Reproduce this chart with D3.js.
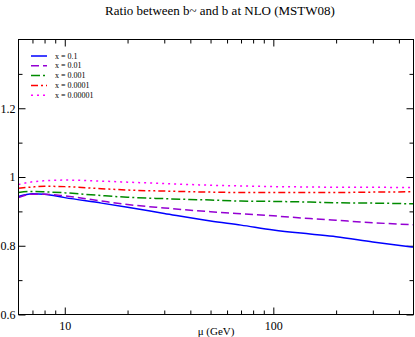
<!DOCTYPE html>
<html>
<head>
<meta charset="utf-8">
<script src="https://cdn.jsdelivr.net/npm/d3@7"></script>
<style>
  body { margin: 0; background: #fff; }
  svg { display: block; }
  text { font-family: "Liberation Serif", "DejaVu Serif", serif; }
</style>
</head>
<body>
<svg class="chart"></svg>
<script>
// scale mu (GeV) and the b~/b ratio for each x
var mu = [6, 7, 8, 10, 15, 20, 30, 50, 70, 100, 150, 200, 300, 470];
var r_x1 = [0.943, 0.951, 0.950, 0.940, 0.924, 0.912, 0.894, 0.872, 0.860, 0.846, 0.834, 0.826, 0.811, 0.796];
var r_x2 = [0.940, 0.950, 0.950, 0.945, 0.930, 0.920, 0.910, 0.899, 0.893, 0.887, 0.879, 0.874, 0.867, 0.861];
var r_x3 = [0.955, 0.958, 0.957, 0.954, 0.946, 0.941, 0.937, 0.933, 0.930, 0.929, 0.927, 0.925, 0.924, 0.922];
var r_x4 = [0.967, 0.971, 0.973, 0.972, 0.966, 0.962, 0.959, 0.956, 0.955, 0.955, 0.955, 0.955, 0.956, 0.957];
var r_x5 = [0.978, 0.986, 0.989, 0.991, 0.988, 0.985, 0.981, 0.976, 0.974, 0.972, 0.971, 0.970, 0.970, 0.969];
var labels = ["x = 0.1", "x = 0.01", "x = 0.001", "x = 0.0001", "x = 0.00001"];

var xMajor = [10, 100];
var xMinor = [7, 8, 9, 20, 30, 40, 50, 60, 70, 80, 90, 200, 300, 400];
var yMajor = [0.6, 0.8, 1, 1.2];
var yMinor = [0.7, 0.9, 1.1, 1.3];

let W = 415, H = 337;
let pL = 18.5, pT = 39.5, pR = 413.5, pB = 314.5;

var series = [
  {vals: r_x1, color: "#0000ff", dash: null},
  {vals: r_x2, color: "#9400d3", dash: "8,4"},
  {vals: r_x3, color: "#008b00", dash: "9,3,2,3"},
  {vals: r_x4, color: "#ff0000", dash: "7,3,2,3,2,3"},
  {vals: r_x5, color: "#ff00ff", dash: "2,4"}
];

var xS = d3.scaleLog().domain([6, 470]).range([pL, pR]);
var yS = d3.scaleLinear().domain([0.6, 1.4]).range([pB, pT]);

var svg = d3.select(".chart").attr("width", W).attr("height", H);

// title
svg.append("text")
   .attr("x", 220)
   .attr("y", 15)
   .attr("text-anchor", "middle")
   .attr("font-size", "13px")
   .text("Ratio between b~ and b at NLO (MSTW08)");

// axes (ticks point inward)
function axis(gen, tr, vals, size, fmt) {
  var g = svg.append("g")
     .attr("transform", tr)
     .call(gen.tickValues(vals).tickSize(size).tickPadding(fmt ? 4 : 0)
              .tickFormat(fmt || (() => "")));
  g.select(".domain").remove();
  g.selectAll("line").attr("stroke", "#000");
  g.selectAll("text").attr("font-size", "12px")
   .style("font-family", '"Liberation Serif", serif');
  return g;
}
var fx = d => d3.format("d")(d);
var fy = d => d3.format("")(d);

var gx = axis(d3.axisBottom(xS), "translate(0," + pB + ")", xMajor, -7, fx);
gx.selectAll("text").attr("y", 7);
axis(d3.axisBottom(xS), "translate(0," + pB + ")", xMinor, -4, null);
axis(d3.axisTop(xS), "translate(0," + pT + ")", xMajor, -7, null);
axis(d3.axisTop(xS), "translate(0," + pT + ")", xMinor, -4, null);

var gy = axis(d3.axisLeft(yS), "translate(" + pL + ",0)", yMajor, -7, fy);
gy.selectAll("text").attr("x", -3);
axis(d3.axisLeft(yS), "translate(" + pL + ",0)", yMinor, -4, null);
axis(d3.axisRight(yS), "translate(" + pR + ",0)", yMajor, -7, null);
axis(d3.axisRight(yS), "translate(" + pR + ",0)", yMinor, -4, null);

svg.append("text")
   .attr("x", 216)
   .attr("y", 335)
   .attr("text-anchor", "middle")
   .attr("font-size", "11px")
   .text("μ (GeV)");

// curves
var line = d3.line().x((d, i) => xS(mu[i])).y(d => yS(d)).curve(d3.curveMonotoneX);

svg.append("defs").append("clipPath").attr("id", "clip")
   .append("rect").attr("x", pL).attr("y", pT)
   .attr("width", pR - pL).attr("height", pB - pT);

svg.append("g").attr("clip-path", "url(#clip)")
   .selectAll("path")
   .data(series)
   .enter().append("path")
   .attr("d", d => line(d.vals))
   .attr("fill", "none")
   .attr("stroke", d => d.color)
   .attr("stroke-width", 1.5)
   .attr("stroke-dasharray", d => d.dash);

// frame
svg.append("rect")
   .attr("x", pL).attr("y", pT)
   .attr("width", pR - pL).attr("height", pB - pT)
   .attr("fill", "none").attr("stroke", "#000").attr("stroke-width", 1);

// legend
var leg = svg.append("g").selectAll("g")
   .data(series)
   .enter().append("g")
   .attr("transform", (d, i) => "translate(31," + (56 + i * 9.8) + ")");

leg.append("line")
   .attr("x1", 0).attr("x2", 16)
   .attr("stroke", d => d.color)
   .attr("stroke-width", 1.5)
   .attr("stroke-dasharray", d => d.dash);

leg.append("text")
   .attr("x", 24)
   .attr("dy", "0.32em")
   .attr("font-size", "8px")
   .text((d, i) => labels[i]);
</script>
</body>
</html>
